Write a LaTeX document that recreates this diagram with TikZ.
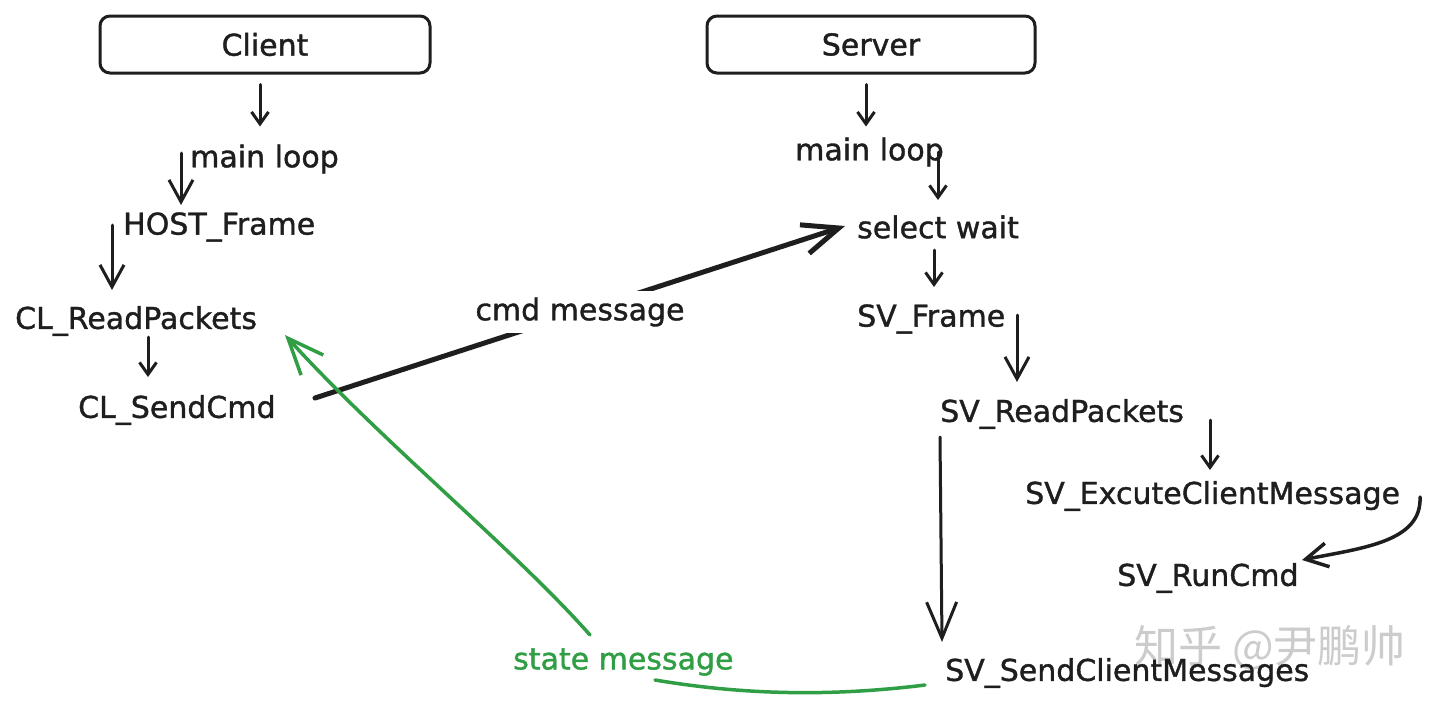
\documentclass[tikz,border=0pt]{standalone}
\usepackage{fontspec}
\setmainfont{DejaVu Sans}[BoldFont={DejaVu Sans},BoldFeatures={FakeBold=1.2}]
\newfontfamily\cjkfont{Noto Sans CJK SC}
\usetikzlibrary{arrows.meta}
\definecolor{ink}{HTML}{1E1E1E}
\definecolor{grn}{HTML}{2F9E44}
\begin{document}
\begin{tikzpicture}[x=1pt,y=-1pt,
  lbl/.style={inner sep=0pt, anchor=west, text=ink, font=\fontsize{30}{36}\selectfont\bfseries},
  titlebox/.style={draw=ink, line width=3pt, rounded corners=10pt, minimum width=330pt,
     minimum height=57pt, inner sep=0pt, text=ink, font=\fontsize{30}{36}\selectfont\bfseries},
  conn/.style={draw=ink, line width=3pt, line cap=round, line join=round},
  tipS/.style={-{Straight Barb[length=12pt,width=17pt]}},
  tipM/.style={-{Straight Barb[length=22pt,width=24pt]}},
  tipL/.style={-{Straight Barb[length=36pt,width=30pt]}},
]
\useasboundingbox (0,0) rectangle (1440,707);
\fill[white] (0,0) rectangle (1440,707);

% watermark
\node[inner sep=0pt, text=gray!40, font=\fontsize{44}{50}\selectfont\cjkfont] (wm) at (1270,648) {知乎 @尹鹏帅};

% title boxes
\node[titlebox] (client) at (265,44.5) {Client};
\node[titlebox, minimum width=328pt] (server) at (871,44.5) {Server};

% client side labels
\node[lbl] (mlL)  at (190,159) {main loop};
\node[lbl] (host) at (123,227) {HOST\_Frame};
\node[lbl] (clrp) at (15,321)  {CL\_ReadPackets};
\node[lbl] (clsc) at (78,410)  {CL\_SendCmd};

% server side labels
\node[lbl] (mlR)   at (795,152)  {main loop};
\node[lbl] (sw)    at (857,227)  {select wait};
\node[lbl] (svf)   at (857,319)  {SV\_Frame};
\node[lbl] (svrp)  at (940,414)  {SV\_ReadPackets};
\node[lbl] (svecm) at (1025,496) {SV\_ExcuteClientMessage};
\node[lbl] (svrc)  at (1117,578) {SV\_RunCmd};
\node[lbl] (svscm) at (945,673)  {SV\_SendClientMessages};

% green label
\node[lbl, text=grn] (sm) at (513,662) {state message};

% client arrows
\draw[conn,tipS] ([shift={(-5,10)}]client.south) -- ++(0,42);
\draw[conn,tipM] ([shift={(-9,-6)}]mlL.west) -- ++(0,52);
\draw[conn,tipM] ([shift={(-11,-2)}]host.west) -- ++(0,65);
\draw[conn,tipS] ([shift={(133,16)}]clrp.west) -- ++(0,40);

% server arrows
\draw[conn,tipS] ([shift={(-5,10)}]server.south) -- ++(0,42);
\draw[conn,tipS] ([shift={(143,0)}]mlR.west) -- ++(0,48);
\draw[conn,tipS] ([shift={(77,23)}]sw.west) -- ++(0,37);
\draw[conn,tipM] ([shift={(160,-4)}]svf.west) -- ++(0,67);
\draw[conn,tipS] ([shift={(270,6)}]svrp.west) -- ++(0,50);
\draw[conn,tipL] ([shift={(0,23)}]svrp.west) -- ++(2,205);
\draw[conn,tipM,line width=3.5pt] ([shift={(395,1)}]svecm.west)
   .. controls +(2,45) and +(60,-12) .. ([shift={(185,-18)}]svrc.west);

% cmd message
\draw[conn,line width=5pt,tipL] ([shift={(237,-12)}]clsc.west) -- ([shift={(-12,-1)}]sw.west)
   node[midway, fill=white, inner sep=6pt, text=ink, font=\fontsize{30}{36}\selectfont\bfseries] (cmdm) {cmd message};

% state message (green)
\draw[conn,draw=grn,line width=3.5pt] ([shift={(-20,12)}]svscm.west)
   .. controls +(-120,15) and +(60,10) .. ([shift={(142,18)}]sm.west);
\draw[conn,draw=grn,line width=3.5pt,tipL] ([shift={(77,-27)}]sm.west)
   .. controls +(-75,-85) and +(95,105) .. ([shift={(270,14)}]clrp.west);
\end{tikzpicture}
\end{document}
